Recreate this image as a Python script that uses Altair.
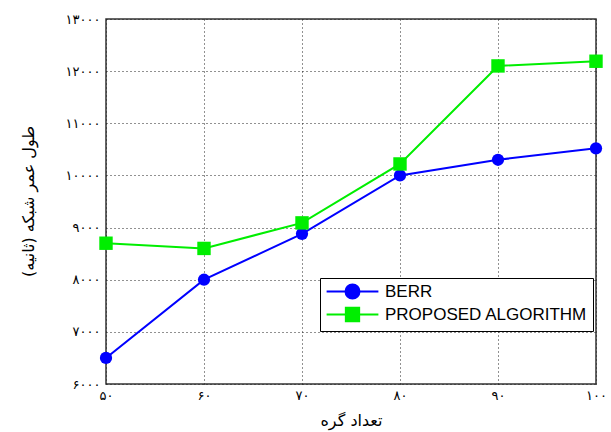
import json
import altair as alt
import pandas as pd

# ---- data ----
nodes = [50, 60, 70, 80, 90, 100]
berr = [6500, 8000, 8880, 10000, 10300, 10520]
proposed = [8700, 8600, 9090, 10220, 12100, 12190]
series_names = ["BERR", "PROPOSED ALGORITHM"]
series_colors = ["#0000ff", "#00ee00"]

x_tick_values = [50, 60, 70, 80, 90, 100]
x_tick_labels = ["۵۰", "۶۰", "۷۰", "۸۰", "۹۰", "۱۰۰"]
y_tick_values = [6000, 7000, 8000, 9000, 10000, 11000, 12000, 13000]
y_tick_labels = ["۶۰۰۰", "۷۰۰۰", "۸۰۰۰", "۹۰۰۰", "۱۰۰۰۰", "۱۱۰۰۰", "۱۲۰۰۰", "۱۳۰۰۰"]

x_title = "تعداد گره"
y_title = "طول عمر شبکه (ثانیه)"

df = pd.DataFrame({
    "x": nodes + nodes,
    "y": berr + proposed,
    "series": [series_names[0]] * len(nodes) + [series_names[1]] * len(nodes),
})


# legend symbols: line through a marker (marker drawn as nested outlines so it looks solid)
def _circle(r):
    return f"M{-r},0A{r},{r} 0 1,0 {r},0A{r},{r} 0 1,0 {-r},0Z"


def _square(h):
    return f"M{-h},{-h}H{h}V{h}H{-h}Z"


legend_paths = [
    "M-3.7,0H3.7" + "".join(_circle(r) for r in (1.0, 0.75, 0.5, 0.25, 0.05)),
    "M-3.7,0H3.7" + "".join(_square(h) for h in (0.95, 0.7, 0.45, 0.2, 0.05)),
]

x_label_expr = f"{json.dumps(x_tick_labels, ensure_ascii=False)}[indexof({json.dumps(x_tick_values)}, datum.value)]"
y_label_expr = f"{json.dumps(y_tick_labels, ensure_ascii=False)}[indexof({json.dumps(y_tick_values)}, datum.value)]"

x_enc = alt.X(
    "x:Q",
    scale=alt.Scale(domain=[50, 100], nice=False, zero=False),
    axis=alt.Axis(
        values=x_tick_values, labelExpr=x_label_expr, title=x_title,
        grid=True, ticks=False, domain=False,
        labelFont="DejaVu Sans", labelFontSize=13, labelColor="black", labelPadding=5,
        labelFlush=False,
        titleFont="DejaVu Sans", titleFontSize=16, titleFontWeight="normal", titleColor="black",
        titleX=245, titleY=36, titleBaseline="middle", titleAlign="center",
        gridDash=[1, 3], gridColor="#222222", gridWidth=1, gridOpacity=1,
    ),
)
y_enc = alt.Y(
    "y:Q",
    scale=alt.Scale(domain=[6000, 13000], nice=False, zero=False),
    axis=alt.Axis(
        values=y_tick_values, labelExpr=y_label_expr, title=y_title,
        grid=True, ticks=False, domain=False,
        labelFont="DejaVu Sans", labelFontSize=13, labelColor="black", labelPadding=6,
        labelFlush=False,
        titleFont="DejaVu Sans", titleFontSize=16, titleFontWeight="normal", titleColor="black",
        titleX=-78, titleY=182, titleAngle=270, titleBaseline="middle", titleAlign="center",
        gridDash=[1, 3], gridColor="#222222", gridWidth=1, gridOpacity=1,
    ),
)

base = alt.Chart(df)

berr_data = base.transform_filter(alt.datum.series == series_names[0])
prop_data = base.transform_filter(alt.datum.series == series_names[1])

line_berr = berr_data.mark_line(strokeWidth=2, color=series_colors[0]).encode(x=x_enc, y=y_enc)
line_prop = prop_data.mark_line(strokeWidth=2, color=series_colors[1]).encode(x="x:Q", y="y:Q")

pts_berr = berr_data.mark_point(
    filled=True, opacity=1, shape="circle", size=150, color=series_colors[0]
).encode(x="x:Q", y="y:Q")

pts_prop = prop_data.mark_point(
    filled=True, opacity=1, shape="square", size=180, color=series_colors[1]
).encode(x="x:Q", y="y:Q")

legend_layer = base.transform_filter("false").mark_point(filled=True, opacity=1).encode(
    x="x:Q", y="y:Q",
    fill=alt.Fill(
        "series:N", scale=alt.Scale(domain=series_names, range=series_colors),
        legend=alt.Legend(
            title=None, orient="none", legendX=214, legendY=259,
            fillColor="white", strokeColor="black", padding=5, cornerRadius=0,
            labelFont="Liberation Sans", labelFontSize=17, labelColor="black",
            symbolSize=196, symbolStrokeWidth=2, symbolOffset=19, labelOffset=24,
            rowPadding=0, symbolOpacity=1, labelLimit=400,
        ),
    ),
    stroke=alt.Stroke(
        "series:N", scale=alt.Scale(domain=series_names, range=series_colors),
        legend=alt.Legend(title=None, orient="none", legendX=214, legendY=259),
    ),
    shape=alt.Shape("series:N", scale=alt.Scale(domain=series_names, range=legend_paths)),
)

chart = alt.layer(line_berr, line_prop, pts_berr, pts_prop, legend_layer).properties(
    width=490, height=365,
    autosize=alt.AutoSizeParams(type="none"),
    padding={"left": 106, "top": 19, "right": 15, "bottom": 48},
    background="white",
).configure_view(stroke="#333333", strokeWidth=1.5)

chart.save("out.html", embed_options={"renderer": "svg", "actions": False})
